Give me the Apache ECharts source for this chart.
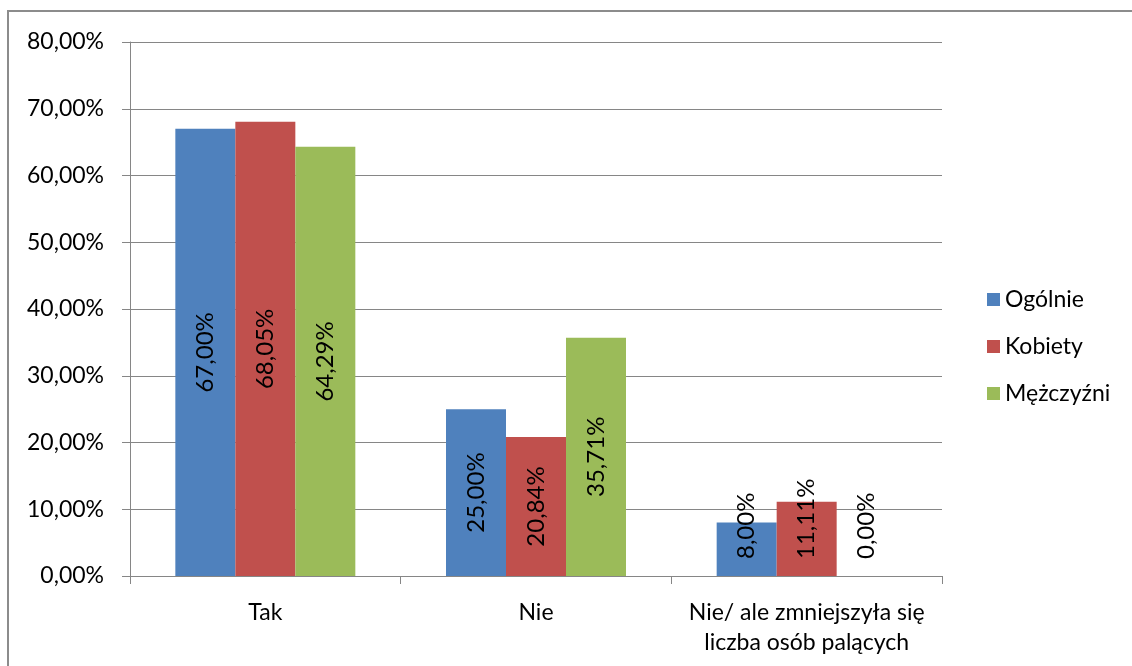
<!DOCTYPE html>
<html>
<head>
<meta charset="utf-8">
<script src="https://cdn.jsdelivr.net/npm/echarts@6/dist/echarts.min.js"></script>
<style>
  html, body { margin: 0; padding: 0; background: #fff; }
  #chart { width: 1132px; height: 666px; }
</style>
</head>
<body>
<div id="chart"></div>
<script>
// dane z wykresu
const categories = ['Tak', 'Nie', 'Nie/ ale zmniejszyła się\nliczba osób palących']
const seriesNames = ['Ogólnie', 'Kobiety', 'Mężczyźni']
const ogolnie = [67.00, 25.00, 8.00]
const kobiety = [68.05, 20.84, 11.11]
const mezczyzni = [64.29, 35.71, 0.00]
const colors = ['#4F81BD', '#C0504D', '#9BBB59']

const font = 'Lato, "Open Sans", sans-serif'
const fmt = v => v.toFixed(2).replace('.', ',') + '%'

// etykiety: w środku słupka, dla ostatniej kategorii od dołu
const makeData = function(values){
  return values.map((v, i) => {
    if (i < 2) return v
    return {
      value: v,
      label: { position: 'insideBottom', distance: 17, align: 'left', verticalAlign: 'middle' }
    }
  })
}

const makeSeries = function(name, values, color){
  return {
    name: name,
    type: 'bar',
    data: makeData(values),
    barGap: 0,
    barCategoryGap: '33.5%',
    itemStyle: { color: color },
    label: {
      show: true,
      position: 'inside',
      rotate: 90,
      color: '#000',
      fontSize: 24,
      fontFamily: font,
      formatter: p => fmt(p.value)
    }
  }
}

const chart = echarts.init(document.getElementById('chart'))
chart.setOption({
  animation: false,
  color: colors,
  graphic: [{
    type: 'rect',
    shape: { x: 8, y: 11, width: 1300, height: 800 },
    style: { fill: 'none', stroke: '#8c8c8c', lineWidth: 2 },
    silent: true
  }],
  grid: { left: 130, right: 190, top: 42, bottom: 90 },
  legend: {
    orient: 'vertical',
    left: 982,
    top: 283,
    itemWidth: 13,
    itemHeight: 13,
    itemGap: 24,
    icon: 'rect',
    textStyle: { fontSize: 23, fontFamily: font, color: '#000' },
    data: seriesNames
  },
  xAxis: {
    type: 'category',
    data: categories,
    axisLine: { lineStyle: { color: '#868686' } },
    axisTick: { show: true, length: 8, lineStyle: { color: '#868686' } },
    axisLabel: { color: '#000', fontSize: 23, fontFamily: font, margin: 22, lineHeight: 30, interval: 0 }
  },
  yAxis: {
    type: 'value',
    min: 0,
    max: 80,
    interval: 10,
    axisLine: { show: true, lineStyle: { color: '#868686' } },
    axisTick: { show: true, length: 8, lineStyle: { color: '#868686' } },
    splitLine: { lineStyle: { color: '#868686' } },
    axisLabel: { color: '#000', fontSize: 23, fontFamily: font, margin: 26, formatter: v => fmt(v) }
  },
  series: [
    makeSeries(seriesNames[0], ogolnie, colors[0]),
    makeSeries(seriesNames[1], kobiety, colors[1]),
    makeSeries(seriesNames[2], mezczyzni, colors[2])
  ]
})
</script>
</body>
</html>
